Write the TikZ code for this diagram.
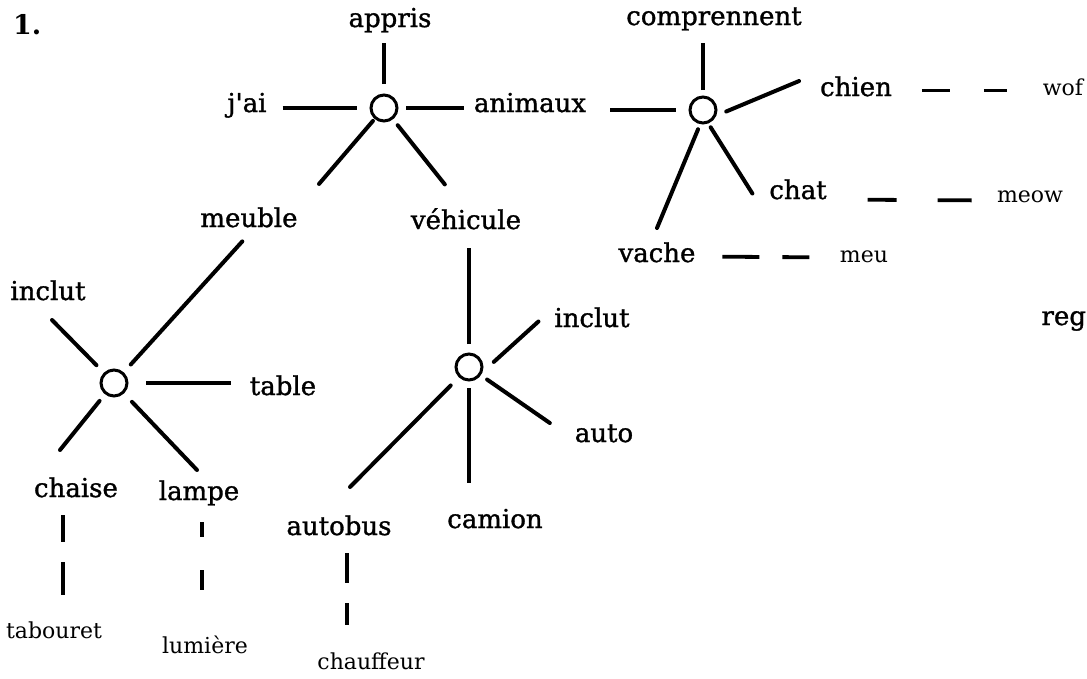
\documentclass[tikz,border=0pt]{standalone}
\usepackage{fontspec}
\newfontfamily\labfont{DejaVu Serif}[FakeBold=1.2]
\newfontfamily\subfont{DejaVu Serif}
\begin{document}
\begin{tikzpicture}[x=1pt,y=-1pt,
  lab/.style={font=\labfont\fontsize{26}{30}\selectfont, inner sep=0pt, outer sep=0pt,
              text height=18pt, text depth=7pt, anchor=base},
  sub/.style={font=\subfont\fontsize{22}{26}\selectfont, inner sep=0pt, outer sep=0pt,
              text height=15pt, text depth=6pt, anchor=base},
  hub/.style={circle, draw, line width=3pt, minimum size=26pt, inner sep=0pt, outer sep=0pt},
  spoke/.style={line width=4pt, line cap=round},
  thin spoke/.style={line width=3.2pt},
  link/.style={line width=3.8pt}
]
\useasboundingbox (0,0) rectangle (1087,678);

% ---- labels ----
\node[anchor=base west, inner sep=0pt, font=\subfont\bfseries\fontsize{27}{30}\selectfont] (num) at (13,34) {1.};
\node[lab] (appris) at (390,27) {appris};
\node[lab] (jai) at (247,112) {j'ai};
\node[lab] (animaux) at (530,112) {animaux};
\node[lab] (meuble) at (249,227) {meuble};
\node[lab] (vehicule) at (466,229) {véhicule};
\node[lab] (comprennent) at (714,25) {comprennent};
\node[lab] (chien) at (856,96) {chien};
\node[sub] (wof) at (1063,95) {wof};
\node[lab] (chat) at (798,199) {chat};
\node[sub] (meow) at (1030,202) {meow};
\node[lab] (vache) at (657,262) {vache};
\node[sub] (meu) at (864,262) {meu};
\node[lab] (inclutA) at (48,300) {inclut};
\node[lab] (table) at (283,395) {table};
\node[lab] (chaise) at (76,497) {chaise};
\node[lab] (lampe) at (199,500) {lampe};
\node[lab] (autobus) at (339,535) {autobus};
\node[sub] (tabouret) at (54,638) {tabouret};
\node[sub] (lumiere) at (205,653) {lumière};
\node[lab] (inclutB) at (592,327) {inclut};
\node[lab] (auto) at (604,442) {auto};
\node[lab] (camion) at (495,528) {camion};
\node[sub] (chauffeur) at (371,669) {chauffeur};
\node[lab, anchor=base east] (reg) at (1086,325) {reg};

% ---- hubs ----
\node[hub] (h1) at (384,108) {};
\node[hub] (h2) at (703,110) {};
\node[hub] (h3) at (114,383) {};
\node[hub] (h4) at (469,367) {};

% ---- first hub: j'ai appris ... ----
\draw[thin spoke, shorten <=11pt, shorten >=9pt] (h1) -- (h1 |- appris.south);
\draw[thin spoke, shorten <=16pt, shorten >=14pt] (jai.east |- h1) -- (h1);
\draw[thin spoke, shorten <=9pt, shorten >=10pt] (h1) -- (animaux.west |- h1);
\draw[spoke, shorten <=4pt, shorten >=33pt] (h1) -- (meuble.north east);
\draw[spoke, shorten <=9pt, shorten >=34pt] (h1) -- (vehicule.north);

% ---- second hub: animaux comprennent ... ----
\draw[thin spoke, shorten <=24pt, shorten >=14pt] (animaux.east |- h2) -- (h2);
\draw[thin spoke, shorten <=7pt, shorten >=11pt] (h2) -- (h2 |- comprennent.south);
\draw[spoke, shorten <=13pt] (h2.-30) -- ([shift={(-21,3)}]chien.north west);
\draw[spoke, shorten <=6pt] (h2.-70) -- ([xshift=-17pt]chat.west);
\draw[spoke, shorten <=7pt] (h2.-100) -- ([yshift=16pt]vache.north);

% ---- third hub: meuble inclut ... ----
\draw[spoke, shorten <=12pt] (h3) -- ([shift={(4,13)}]inclutA.south);
\draw[spoke, shorten <=12pt, shorten >=10pt] (h3) -- (meuble.south);
\draw[thin spoke, shorten <=19pt, shorten >=19pt] (h3) -- (table.west |- h3);
\draw[spoke, shorten <=10pt] (h3) -- ([shift={(-16,-29)}]chaise.north);
\draw[spoke, shorten <=13pt] (h3) -- ([shift={(-2,-12)}]lampe.north);

% ---- fourth hub: vehicule inclut ... ----
\draw[thin spoke, shorten <=10pt, shorten >=12pt] (h4) -- (h4 |- vehicule.south);
\draw[spoke, shorten <=20pt] (h4.-40) -- ([xshift=-16pt]inclutB.west);
\draw[spoke, shorten <=9pt] (h4) -- ([shift={(-25,-13.5)}]auto.west);
\draw[thin spoke, shorten <=8pt, shorten >=27pt] (h4) -- (h4 |- camion.north);
\draw[spoke, shorten <=13pt] (h4) -- ([shift={(11,-30)}]autobus.north);

% ---- broken associative links ----
\draw[link, shorten <=30pt, dash pattern=on 28pt off 34pt on 23pt off 300pt] (chien.east) -- (wof.west);
\draw[link, shorten <=41pt, dash pattern=on 29pt off 41pt on 34pt off 300pt] ([yshift=-6pt]chat.east) -- ([yshift=-3pt]meow.west);
\draw[link, shorten <=27pt, dash pattern=on 37pt off 23pt on 27pt off 300pt] (vache.east) -- (meu.west);
\draw[link, shorten <=11pt, dash pattern=on 27pt off 20pt on 33pt off 300pt] ([xshift=-13pt]chaise.south) -- ([xshift=9pt]tabouret.north);
\draw[link, shorten <=15pt, dash pattern=on 15pt off 33pt on 20pt off 300pt] ([xshift=3pt]lampe.south) -- ([xshift=-3pt]lumiere.north);
\draw[link, shorten <=11pt, dash pattern=on 30pt off 20pt on 22pt off 300pt] ([xshift=8pt]autobus.south) -- ([xshift=-24pt]chauffeur.north);
\end{tikzpicture}
\end{document}
